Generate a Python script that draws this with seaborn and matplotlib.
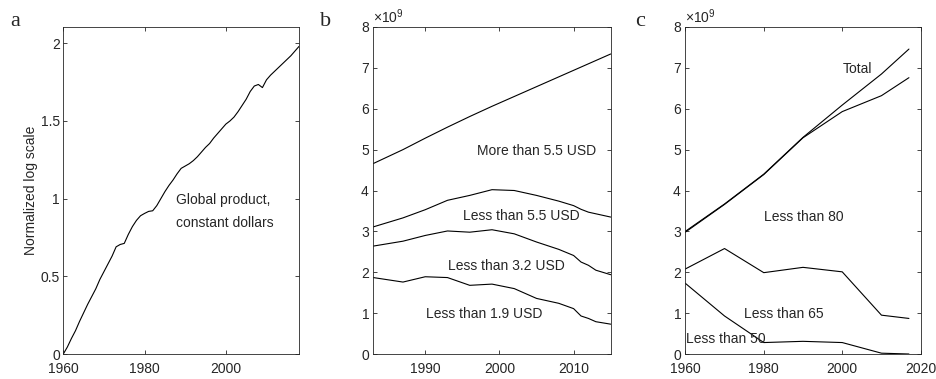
import numpy as np
import pandas as pd
import matplotlib
matplotlib.use("Agg")
import matplotlib.pyplot as plt
import seaborn as sns
from matplotlib.ticker import FixedLocator, FuncFormatter, ScalarFormatter

# ---- panel a: global product, normalized log scale ----
gdp_years = list(range(1960, 2019))
gdp_values = [
    0.000, 0.045, 0.100, 0.150, 0.210, 0.265, 0.320, 0.370, 0.420, 0.480,
    0.530, 0.580, 0.630, 0.690, 0.705, 0.712, 0.770, 0.820, 0.860, 0.890,
    0.905, 0.918, 0.922, 0.955, 1.000, 1.045, 1.085, 1.120, 1.160, 1.195,
    1.210, 1.225, 1.245, 1.270, 1.300, 1.330, 1.355, 1.390, 1.420, 1.450,
    1.480, 1.500, 1.525, 1.560, 1.600, 1.640, 1.690, 1.725, 1.735, 1.715,
    1.765, 1.795, 1.820, 1.845, 1.870, 1.895, 1.920, 1.950, 1.980,
]

# ---- panel b: people by daily income (billions) ----
income_years = [1983, 1987, 1990, 1993, 1996, 1999, 2002, 2005, 2008,
                2010, 2011, 2012, 2013, 2015]
more_than_5_5 = [4.66, 5.00, 5.28, 5.55, 5.81, 6.06, 6.30, 6.54, 6.78,
                 6.94, 7.02, 7.10, 7.18, 7.34]
less_than_5_5 = [3.11, 3.33, 3.53, 3.76, 3.88, 4.02, 4.00, 3.88, 3.74,
                 3.63, 3.54, 3.47, 3.43, 3.35]
less_than_3_2 = [2.64, 2.76, 2.90, 3.01, 2.98, 3.04, 2.94, 2.74, 2.56,
                 2.41, 2.25, 2.17, 2.05, 1.94]
less_than_1_9 = [1.87, 1.76, 1.89, 1.87, 1.68, 1.71, 1.60, 1.36, 1.24,
                 1.11, 0.93, 0.87, 0.79, 0.73]

# ---- panel c: people by life expectancy (billions) ----
life_years = [1960, 1970, 1980, 1990, 2000, 2010, 2017]
total_pop = [3.00, 3.67, 4.40, 5.30, 6.09, 6.85, 7.46]
less_than_80 = [2.98, 3.66, 4.39, 5.29, 5.93, 6.32, 6.76]
less_than_65 = [2.08, 2.58, 1.99, 2.12, 2.01, 0.95, 0.87]
less_than_50 = [1.73, 0.93, 0.28, 0.31, 0.28, 0.02, 0.00]

BILLION = 1e9

df_a = pd.DataFrame({"year": gdp_years, "value": gdp_values})

df_b = pd.concat([
    pd.DataFrame({"year": income_years,
                  "people": np.array(vals) * BILLION,
                  "group": name})
    for name, vals in [("More than 5.5 USD", more_than_5_5),
                       ("Less than 5.5 USD", less_than_5_5),
                       ("Less than 3.2 USD", less_than_3_2),
                       ("Less than 1.9 USD", less_than_1_9)]
], ignore_index=True)

df_c = pd.concat([
    pd.DataFrame({"year": life_years,
                  "people": np.array(vals) * BILLION,
                  "group": name})
    for name, vals in [("Total", total_pop),
                       ("Less than 80", less_than_80),
                       ("Less than 65", less_than_65),
                       ("Less than 50", less_than_50)]
], ignore_index=True)

sns.set_style("ticks")
dark = "#262626"
plt.rcParams.update({
    "font.family": ["Liberation Sans", "DejaVu Sans"],
    "font.size": 10,
    "mathtext.fontset": "custom",
    "mathtext.rm": "Liberation Sans",
    "mathtext.it": "Liberation Sans:italic",
    "mathtext.bf": "Liberation Sans:bold",
    "axes.edgecolor": dark,
    "axes.linewidth": 0.6,
    "axes.labelcolor": dark,
    "xtick.direction": "in",
    "ytick.direction": "in",
    "xtick.top": True,
    "ytick.right": True,
    "xtick.major.size": 3,
    "ytick.major.size": 3,
    "xtick.major.width": 0.6,
    "ytick.major.width": 0.6,
    "xtick.color": dark,
    "ytick.color": dark,
    "xtick.labelsize": 10,
    "ytick.labelsize": 10,
    "xtick.major.pad": 5.5,
    "ytick.major.pad": 2.5,
})

W, H = 937, 379
fig = plt.figure(figsize=(W / 100, H / 100), dpi=100)


def px_axes(left, top, right, bottom):
    return fig.add_axes([left / W, 1 - bottom / H, (right - left) / W,
                         (bottom - top) / H])


ax_a = px_axes(63.3, 27, 299, 354)
ax_b = px_axes(373.3, 27, 610.7, 354)
ax_c = px_axes(685.3, 27, 920.7, 354)

line_kw = dict(color="black", linewidth=0.8)

# panel a
sns.lineplot(data=df_a, x="year", y="value", ax=ax_a, **line_kw)
ax_a.set_xlim(1960, 2018)
ax_a.set_ylim(0, 2.105)
ax_a.xaxis.set_major_locator(FixedLocator([1960, 1980, 2000]))
ax_a.yaxis.set_major_locator(FixedLocator([0, 0.5, 1, 1.5, 2]))
ax_a.yaxis.set_major_formatter(FuncFormatter(lambda v, p: f"{v:g}"))
ax_a.set_xlabel("")
ax_a.set_ylabel("Normalized log scale", labelpad=1.5)
ax_a.text(1987.8, 0.99, "Global product,", ha="left", va="center")
ax_a.text(1987.8, 0.845, "constant dollars", ha="left", va="center")

# panel b
sns.lineplot(data=df_b, x="year", y="people", hue="group",
             palette=["black"] * 4, legend=False, ax=ax_b, linewidth=0.8)
ax_b.set_xlim(1983, 2015)
ax_b.set_ylim(0, 8e9)
ax_b.xaxis.set_major_locator(FixedLocator([1990, 2000, 2010]))
ax_b.yaxis.set_major_locator(FixedLocator(np.arange(0, 9) * BILLION))
for label, x, y in [("More than 5.5 USD", 2005.0, 4.97),
                    ("Less than 5.5 USD", 2003.0, 3.37),
                    ("Less than 3.2 USD", 2001.0, 2.16),
                    ("Less than 1.9 USD", 1998.0, 0.98)]:
    ax_b.text(x, y * BILLION, label, ha="center", va="center")

# panel c
sns.lineplot(data=df_c, x="year", y="people", hue="group",
             palette=["black"] * 4, legend=False, ax=ax_c, linewidth=0.8)
ax_c.set_xlim(1960, 2020)
ax_c.set_ylim(0, 8e9)
ax_c.xaxis.set_major_locator(FixedLocator([1960, 1980, 2000, 2020]))
ax_c.yaxis.set_major_locator(FixedLocator(np.arange(0, 9) * BILLION))
for label, x, y, ha in [("Total", 2004.0, 6.98, "center"),
                        ("Less than 80", 1990.1, 3.36, "center"),
                        ("Less than 65", 1985.2, 0.98, "center"),
                        ("Less than 50", 1960.1, 0.37, "left")]:
    ax_c.text(x, y * BILLION, label, ha=ha, va="center")

for ax in (ax_b, ax_c):
    fmt = ScalarFormatter(useMathText=True)
    fmt.set_powerlimits((0, 0))
    ax.yaxis.set_major_formatter(fmt)
    ax.set_xlabel("")
    ax.set_ylabel("")
    ax.yaxis.get_offset_text().set_color(dark)

for ax in (ax_a, ax_b, ax_c):
    for side in ("top", "right", "left", "bottom"):
        ax.spines[side].set_visible(True)

# panel letters
for letter, x in [("a", 10), ("b", 320), ("c", 635)]:
    fig.text(x / W, 1 - 26 / H, letter, family="Liberation Serif",
             fontsize=16, ha="left", va="baseline")

fig.savefig("out.png", dpi=100)
